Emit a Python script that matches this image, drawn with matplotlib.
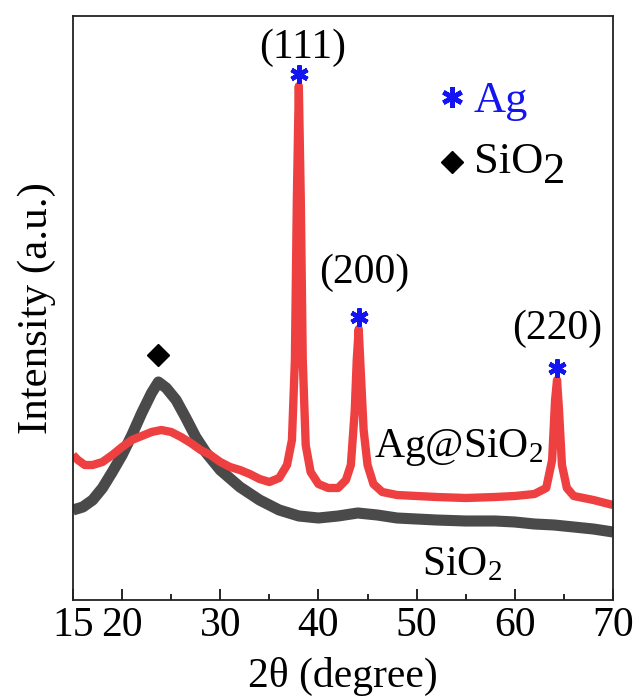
import matplotlib
matplotlib.use("Agg")
import matplotlib.pyplot as plt
import numpy as np

plt.rcParams['font.family'] = ['Liberation Serif', 'DejaVu Serif']
plt.rcParams['mathtext.fontset'] = 'custom'
plt.rcParams['mathtext.rm'] = 'Liberation Serif'
plt.rcParams['mathtext.it'] = 'Liberation Serif:italic'

# ---- data (intensity in arbitrary units) ----
ag_x = [15.0, 15.5, 16.2, 17.0, 18.0, 19.0, 20.0, 21.0, 22.0, 23.0, 24.0, 25.0, 26.0,
        27.0, 28.0, 29.0, 30.0, 31.0, 32.0, 33.0, 34.0, 35.0, 36.0, 36.8, 37.3, 37.6,
        37.8, 38.0, 38.2, 38.4, 38.7, 39.2, 40.0, 41.0, 42.0, 42.8, 43.3, 43.7, 43.9,
        44.1, 44.3, 44.6, 45.0, 45.6, 46.5, 48.0, 50.0, 52.0, 55.0, 58.0, 60.0, 62.0,
        63.2, 63.8, 64.1, 64.3, 64.5, 64.8, 65.3, 66.0, 68.0, 70.0]
ag_y = [145, 140, 135, 135, 138, 145, 153, 160, 164, 168, 170, 168, 163,
        157, 150, 145, 138, 133, 130, 126, 121, 118, 122, 135, 160, 240,
        400, 514, 400, 240, 155, 128, 116, 112, 112, 120, 135, 190, 240,
        271, 230, 170, 135, 116, 108, 105, 104, 103, 102, 103, 104, 106,
        112, 140, 200, 220, 190, 135, 112, 104, 100, 95]

si_x = [15, 16, 17, 18, 19, 20, 21, 22, 23, 23.7, 24.5, 25.5, 26.5, 27.5, 28.5, 30,
        32, 34, 36, 38, 40, 42, 44, 46, 48, 50, 52, 55, 58, 60, 62, 64, 66, 68, 70]
si_y = [90, 93, 100, 112, 128, 145, 165, 187, 207, 218, 212, 200, 182, 163, 148, 130,
        113, 100, 90, 84, 82, 84, 87, 85, 82, 81, 80, 79, 79, 78, 76, 75, 73, 71, 68]

peak_x = [38.0, 44.1, 64.3]
peak_labels = ['(111)', '(200)', '(220)']
peak_top = [514, 271, 220]

sio2_peak_x = 23.7
xticks_major = [15, 20, 30, 40, 50, 60, 70]
xticks_minor = [25, 35, 45, 55, 65]

red = '#EE4040'
gray = '#4A4A4A'
blue = '#1414F0'

fig = plt.figure(figsize=(6.34, 6.97), dpi=100)
ax = fig.add_axes([73/634, 97/697, 540/634, 584/697])

ax.plot(si_x, si_y, color=gray, lw=8, solid_joinstyle='round', solid_capstyle='butt')
ax.plot(ag_x, ag_y, color=red, lw=6, solid_joinstyle='round', solid_capstyle='butt')

ax.set_xlim(15, 70)
ax.set_ylim(0, 584)

fs = 30
# peak markers and labels
text_off = [0.4, 0.6, 0.0]
label_dy = [26, 44, 39]
for px, lab, top, dx, dy in zip(peak_x, peak_labels, peak_top, text_off, label_dy):
    ax.plot([px], [top + 12], marker=(6, 2, 0), color=blue, ms=13, mew=3.2, ls='none')
    ax.text(px + dx, top + 12 + dy, lab, ha='center', va='center', fontsize=fs)

ax.plot([sio2_peak_x], [245], marker='D', color='black', ms=11, ls='none')

# legend (manual)
lfs = 32
ax.plot([53.6], [503], marker=(6, 2, 0), color=blue, ms=15, mew=3.4, ls='none')
ax.text(55.8, 488, 'Ag', color=blue, fontsize=lfs, ha='left', va='baseline')
ax.plot([53.6], [438], marker='D', color='black', ms=11, ls='none')
t_sio = ax.text(55.8, 427, 'SiO', color='black', fontsize=lfs, ha='left', va='baseline')
ax.annotate('2', xy=(1.0, 0.0), xycoords=t_sio, xytext=(0, -10), textcoords='offset pixels',
            fontsize=lfs, ha='left', va='bottom', color='black')

# curve labels
ax.text(54.3, 152, r'Ag@SiO$_2$', fontsize=fs, ha='center', va='center')
ax.text(54.6, 35, r'SiO$_2$', fontsize=fs, ha='center', va='center')

ax.set_xticks(xticks_major)
ax.set_xticklabels([str(v) for v in xticks_major])
ax.set_xticks(xticks_minor, minor=True)
ax.set_yticks([])
ax.tick_params(axis='x', which='major', direction='in', length=8, width=1.2,
               labelsize=fs, pad=5, top=False)
ax.tick_params(axis='x', which='minor', direction='in', length=4, width=1.2, top=False)
for s in ax.spines.values():
    s.set_linewidth(1.3)
    s.set_color('#222222')

ax.set_xlabel('2θ (degree)', fontsize=fs, labelpad=8)
ax.set_ylabel('Intensity (a.u.)', fontsize=fs + 1, labelpad=12)

fig.savefig('out.png', dpi=100)
